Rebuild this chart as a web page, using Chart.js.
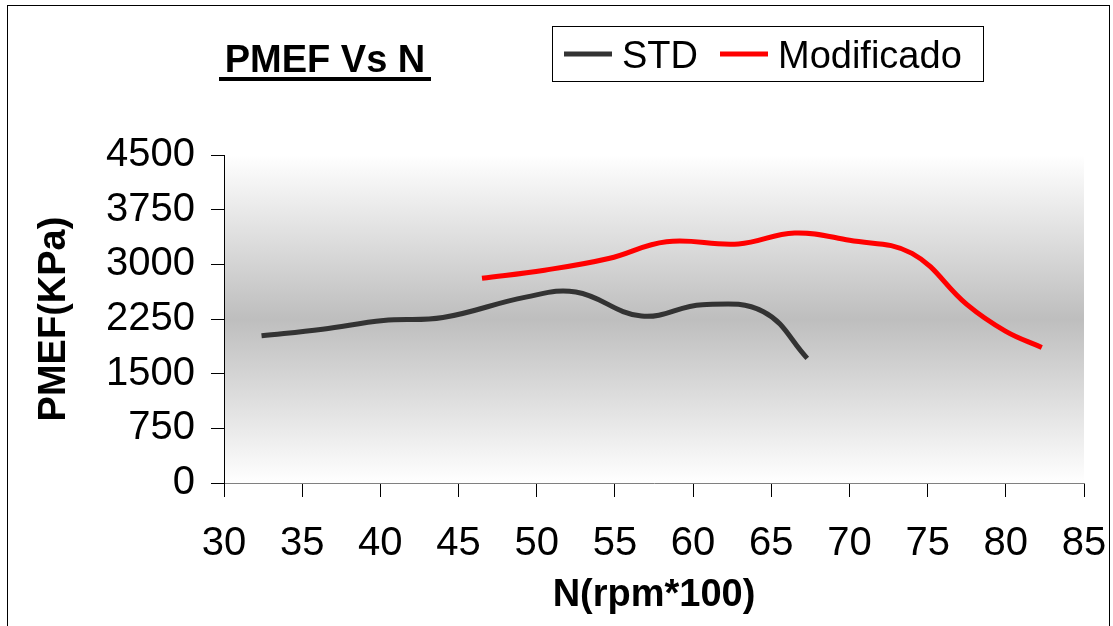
<!DOCTYPE html>
<html>
<head>
<meta charset="utf-8">
<script src="https://cdn.jsdelivr.net/npm/chart.js@4"></script>
<style>
  html, body { margin: 0; padding: 0; background: #fff; }
  #wrap { width: 1113px; height: 626px; }
</style>
</head>
<body>
<div id="wrap"><canvas id="pmefChart" width="1113" height="626"></canvas></div>
<script>
// data
const stdN = [32.4, 36.3, 40.2, 44.0, 49.3, 52.5, 56.7, 60.6, 64.5, 67.3];
const stdPmef = [2020, 2110, 2230, 2270, 2550, 2620, 2290, 2445, 2350, 1710];
const modN = [46.5, 50.5, 54.6, 58.3, 62.9, 66.5, 70.0, 74.0, 77.5, 80.0, 82.3];
const modPmef = [2810, 2920, 3080, 3310, 3280, 3430, 3330, 3150, 2450, 2080, 1860];
const xTicks = [30, 35, 40, 45, 50, 55, 60, 65, 70, 75, 80, 85];
const yTicks = [0, 750, 1500, 2250, 3000, 3750, 4500];

const FONT = "'Liberation Sans', Arial, sans-serif";

const toPoints = (xs, ys) => xs.map((x, i) => ({ x: x, y: ys[i] }));

// background gradient, outer frame, title and boxed legend
const decor = {
  id: 'decor',
  beforeDraw(chart) {
    const { ctx, chartArea: a } = chart;
    ctx.save();
    ctx.fillStyle = '#fff';
    ctx.fillRect(0, 0, chart.width, chart.height);
    const g = ctx.createLinearGradient(0, a.top, 0, a.bottom);
    g.addColorStop(0, '#ffffff');
    g.addColorStop(0.5, '#bebebe');
    g.addColorStop(1, '#ffffff');
    ctx.fillStyle = g;
    ctx.fillRect(a.left, a.top, a.right - a.left, a.bottom - a.top);
    ctx.restore();
  },
  afterDraw(chart) {
    const ctx = chart.ctx;
    ctx.save();
    // frame
    ctx.strokeStyle = '#000';
    ctx.lineWidth = 1;
    ctx.strokeRect(7.5, 5.5, 1102, 700);

    // title
    ctx.fillStyle = '#000';
    ctx.font = 'bold 38px ' + FONT;
    ctx.textAlign = 'center';
    ctx.textBaseline = 'alphabetic';
    ctx.fillText('PMEF Vs N', 325, 72);
    ctx.fillRect(219, 77, 212, 4);

    // legend
    ctx.strokeRect(552.5, 26.5, 431, 55);
    ctx.font = '38px ' + FONT;
    ctx.textAlign = 'left';
    let x = 564;
    chart.data.datasets.forEach(ds => {
      ctx.strokeStyle = ds.borderColor;
      ctx.lineWidth = 5;
      ctx.beginPath();
      ctx.moveTo(x, 54);
      ctx.lineTo(x + 48, 54);
      ctx.stroke();
      ctx.fillText(ds.label, x + 58, 68);
      x += 58 + ctx.measureText(ds.label).width + 22;
    });
    ctx.restore();
  }
};

new Chart(document.getElementById('pmefChart'), {
  type: 'line',
  data: {
    datasets: [
      {
        label: 'STD',
        data: toPoints(stdN, stdPmef),
        borderColor: '#333333',
        borderWidth: 5,
        pointRadius: 0,
        tension: 0.4,
        fill: false,
      },
      {
        label: 'Modificado',
        data: toPoints(modN, modPmef),
        borderColor: '#ff0000',
        borderWidth: 5,
        pointRadius: 0,
        tension: 0.4,
        fill: false,
      },
    ],
  },
  options: {
    responsive: false,
    animation: false,
    layout: { padding: { top: 155, right: 29, bottom: 0, left: 0 } },
    plugins: {
      legend: { display: false },
      title: { display: false },
      tooltip: { enabled: false },
    },
    scales: {
      x: {
        type: 'linear',
        min: 30,
        max: 85,
        afterBuildTicks: s => { s.ticks = xTicks.map(v => ({ value: v })); },
        afterFit: s => { s.height = 143; s.paddingLeft = 0; s.paddingRight = 0; },
        grid: { drawOnChartArea: false, tickLength: 14, color: '#000' },
        border: { color: '#808080', width: 1 },
        ticks: {
          color: '#000',
          padding: 23,
          maxRotation: 0,
          callback: v => String(v),
          font: { family: FONT, size: 40 },
        },
        title: {
          display: true,
          text: 'N(rpm*100)',
          color: '#000',
          font: { family: FONT, size: 38, weight: 'bold', lineHeight: 1 },
          padding: { top: 0, bottom: 11 },
        },
      },
      y: {
        min: 0,
        max: 4500,
        afterBuildTicks: s => { s.ticks = yTicks.map(v => ({ value: v })); },
        afterFit: s => { s.width = 224; },
        grid: { drawOnChartArea: false, tickLength: 13, color: '#000' },
        border: { color: '#000', width: 1 },
        ticks: {
          color: '#000',
          padding: 16,
          callback: v => String(v),
          font: { family: FONT, size: 40 },
        },
        title: {
          display: true,
          text: 'PMEF(KPa)',
          color: '#000',
          font: { family: FONT, size: 38, weight: 'bold', lineHeight: 1 },
          padding: { top: 36, bottom: 0 },
        },
      },
    },
  },
  plugins: [decor],
});
</script>
</body>
</html>
